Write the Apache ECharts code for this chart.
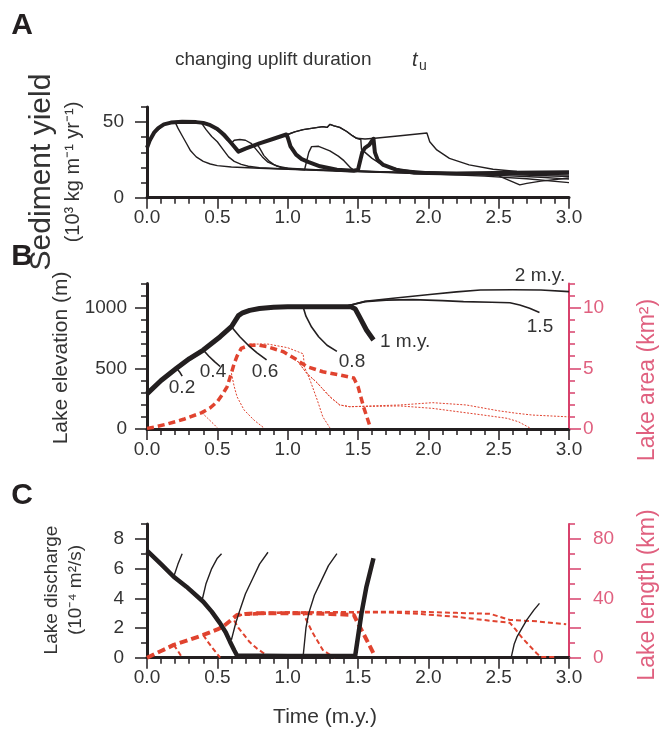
<!DOCTYPE html>
<html><head><meta charset="utf-8">
<script src="https://cdn.jsdelivr.net/npm/echarts@6/dist/echarts.min.js"></script>
<style>html,body{margin:0;padding:0;background:#fff}#c{width:662px;height:735px}</style>
</head><body><div id="c"></div>
<script>
// ---------- tick labels ----------
const timeTicks = [0, 0.5, 1.0, 1.5, 2.0, 2.5, 3.0];
const sedLabels = [0, 50];
const elevLabels = [0, 500, 1000];
const areaLabels = [0, 5, 10];
const dischLabels = [0, 2, 4, 6, 8];
const dischMajor = [0, 2, 4, 6, 8];
const lenLabels = [0, 40, 80];
const lenMajor = [0, 20, 40, 60, 80];

// ---------- Panel A: sediment yield (10^3 kg m^-1 yr^-1) vs time ----------
const sedTu02 = [[0,33],[0.02,38],[0.05,43],[0.08,46],[0.12,48.5],[0.17,49.5],[0.2,50],[0.22,46],[0.25,41],[0.28,36],[0.31,31],[0.35,27],[0.4,24],[0.45,22.3],[0.5,21.2],[0.6,20.3],[0.8,19.5],[1.0,18.8],[1.3,17.8],[1.6,17],[2.0,15.8],[2.4,14.3],[2.7,12.5],[3.0,10]];
const sedTu04 = [[0,33],[0.05,43],[0.12,48.5],[0.2,50],[0.3,50],[0.36,49.8],[0.39,49],[0.42,45],[0.46,40.5],[0.5,37],[0.54,32],[0.58,27],[0.62,24],[0.67,22],[0.72,20.8],[0.8,19.8],[1.0,19],[1.3,18],[1.6,17.2],[2.0,16],[2.5,14.8],[2.8,13.5],[3.0,12.3]];
const sedTu06 = [[0,33],[0.05,43],[0.12,48.5],[0.2,50],[0.3,50],[0.42,49.5],[0.47,47],[0.52,43],[0.57,38],[0.6,36],[0.62,38],[0.66,38.5],[0.7,38],[0.74,36],[0.78,31.5],[0.82,27],[0.86,23.5],[0.92,21],[1.0,19.5],[1.2,18.5],[1.5,17.5],[2.0,16.2],[2.5,15.5],[3.0,14]];
const sedTu08 = [[0,33],[0.05,43],[0.12,48.5],[0.2,50],[0.3,50],[0.4,49.5],[0.45,48],[0.5,45],[0.55,41],[0.6,35.5],[0.65,30.5],[0.7,32.5],[0.75,34.5],[0.78,35.5],[0.8,33],[0.83,28],[0.87,24],[0.9,22],[0.95,20],[1.05,19],[1.12,18.5],[1.15,30],[1.17,33.8],[1.22,34],[1.3,31],[1.36,27.5],[1.4,24.5],[1.45,19.5],[1.48,17.8],[1.7,17],[2.0,16.5],[2.5,16],[3.0,15]];
const sedTu10 = [[0,33],[0.02,38],[0.05,43],[0.08,46],[0.12,48.5],[0.17,49.7],[0.25,50.3],[0.35,50],[0.4,49.5],[0.45,48],[0.5,45.5],[0.55,41.5],[0.6,36],[0.65,30.5],[0.7,32.5],[0.8,36],[0.9,39],[0.99,41.8],[1.0,40],[1.02,34],[1.06,28.5],[1.1,25.5],[1.15,23.5],[1.23,20.8],[1.35,18.5],[1.47,17.8],[1.5,18.5],[1.53,30],[1.55,33],[1.58,35],[1.61,39],[1.62,30],[1.64,25],[1.68,21.7],[1.77,18.5],[1.9,16.5],[2.2,16],[2.6,16.5],[3.0,16.8]];
const sedTu15 = [[0,33],[0.05,43],[0.12,48.5],[0.2,50],[0.35,50],[0.45,48],[0.55,41.5],[0.65,30.5],[0.8,36],[0.9,39],[1.0,41.8],[1.05,43.5],[1.11,45],[1.18,46],[1.25,47],[1.28,46.5],[1.3,48.5],[1.33,47.5],[1.37,46.5],[1.42,43.8],[1.46,41],[1.49,39.3],[1.52,38.5],[1.525,32],[1.55,30],[1.6,26],[1.65,23],[1.7,21],[1.8,18.5],[2.0,17],[2.3,15.8],[2.5,14.5],[2.6,10.5],[2.65,8.5],[2.7,9.5],[2.8,11],[3.0,13]];
const sedTu20 = [[0,33],[0.05,43],[0.12,48.5],[0.2,50],[0.35,50],[0.45,48],[0.55,41.5],[0.65,30.5],[0.8,36],[0.9,39],[1.0,41.8],[1.05,43.5],[1.11,45],[1.18,46],[1.25,47],[1.28,46.5],[1.3,48.5],[1.33,47.5],[1.37,46.5],[1.42,43.8],[1.46,41],[1.49,39.3],[1.55,38.8],[1.62,39.3],[1.8,41],[1.99,42.8],[2.01,37],[2.06,31.6],[2.15,26],[2.29,21.7],[2.46,18.8],[2.63,17.3],[2.8,16.8],[3.0,16.5]];

// ---------- Panel B: lake elevation (m) ----------
const elevTu10 = [[0,290],[0.1,400],[0.21,500],[0.3,578],[0.4,651],[0.52,761],[0.6,843],[0.65,935],[0.68,958],[0.73,978],[0.8,993],[0.9,1003],[1.0,1007],[1.2,1008],[1.45,1008],[1.48,990],[1.51,926],[1.56,816],[1.61,734]];
const elevTu02 = [[0.21,500],[0.235,465],[0.25,435]];
const elevTu04 = [[0.4,651],[0.44,600],[0.48,555],[0.52,515]];
const elevTu06 = [[0.6,843],[0.66,760],[0.72,690],[0.78,630],[0.85,570]];
const elevTu08 = [[1.11,1005],[1.13,930],[1.17,840],[1.22,760],[1.28,690],[1.35,640]];
const elevTu15 = [[1.4,1008],[1.55,1050],[1.7,1062],[1.89,1066],[2.1,1058],[2.25,1050],[2.45,1045],[2.58,1040],[2.65,1022],[2.72,995],[2.79,960]];
const elevTu20 = [[1.4,1008],[1.55,1052],[1.75,1078],[2.01,1108],[2.2,1130],[2.37,1146],[2.6,1148],[2.8,1146],[3.0,1132]];

// ---------- Panel B: lake area (km^2) ----------
const areaTu10 = [[0,0.05],[0.05,0.15],[0.14,0.4],[0.26,0.8],[0.39,1.35],[0.45,1.75],[0.5,2.25],[0.54,2.9],[0.57,3.5],[0.6,4.6],[0.62,5.4],[0.64,6.0],[0.67,6.65],[0.73,6.9],[0.8,6.9],[0.85,6.8],[0.97,6.37],[1.065,5.7],[1.135,5.15],[1.25,4.72],[1.37,4.45],[1.47,4.2],[1.5,3.5],[1.54,1.8],[1.59,0.05]];
const areaTu04 = [[0.39,1.35],[0.43,0.9],[0.47,0.45],[0.5,0.1]];
const areaTu06 = [[0.6,4.6],[0.62,3.5],[0.64,2.66],[0.69,1.57],[0.76,0.74],[0.83,0.1]];
const areaTu08 = [[0.73,7.0],[0.86,7.0],[1.0,6.7],[1.11,6.2],[1.12,5.1],[1.16,4.0],[1.21,2.4],[1.25,1.0],[1.3,0.1]];
const areaTu15 = [[1.07,5.6],[1.135,4.6],[1.21,3.8],[1.3,2.66],[1.37,1.98],[1.44,1.84],[1.8,1.9],[2.03,1.7],[2.39,1.15],[2.56,0.88],[2.64,0.6],[2.72,0.1]];
const areaTu20 = [[1.07,5.6],[1.135,4.6],[1.21,3.8],[1.3,2.66],[1.37,1.98],[1.44,1.84],[1.8,1.98],[2.03,2.17],[2.27,1.98],[2.5,1.5],[2.63,1.29],[2.74,1.15],[3.0,1.0]];

// ---------- Panel C: lake discharge (10^-4 m^2/s) ----------
const dischTu10 = [[0,7.2],[0.1,6.3],[0.19,5.45],[0.28,4.78],[0.4,3.77],[0.46,3.1],[0.52,2.31],[0.56,1.7],[0.59,1.08],[0.62,0.5],[0.64,0.15],[1.0,0.12],[1.48,0.12],[1.525,3.0],[1.56,4.78],[1.61,6.7]];
const dischTu02 = [[0.19,5.45],[0.22,6.3],[0.25,7.0]];
const dischTu04 = [[0.39,3.8],[0.42,5.0],[0.46,6.0],[0.5,6.7],[0.53,7.0]];
const dischTu06 = [[0.6,1.2],[0.63,2.3],[0.66,3.2],[0.7,4.3],[0.75,5.3],[0.8,6.3],[0.86,7.1]];
const dischTu08 = [[1.11,0.1],[1.13,2.0],[1.15,3.0],[1.19,4.2],[1.23,5.0],[1.29,6.2],[1.35,7.0]];
const dischTu15 = [[2.59,0.05],[2.61,0.9],[2.63,1.4],[2.7,2.54],[2.75,3.2],[2.79,3.66]];

// ---------- Panel C: lake length (km) ----------
const lenTu10 = [[0,0],[0.1,4.5],[0.19,8.6],[0.3,12],[0.4,15.3],[0.5,19],[0.54,20.9],[0.6,25.5],[0.64,28.8],[0.7,29.5],[0.8,30],[1.0,30],[1.14,30],[1.3,29.5],[1.47,28.8],[1.5,23.1],[1.55,14.1],[1.61,3]];
const lenTu02 = [[0.19,8.6],[0.22,4.5],[0.25,0]];
const lenTu04 = [[0.4,15.3],[0.43,11],[0.47,6],[0.52,0]];
const lenTu06 = [[0.62,25],[0.65,20],[0.69,15.3],[0.73,10.5],[0.78,6.3],[0.83,3],[0.89,0]];
const lenTu08 = [[0.64,28.5],[0.8,30.5],[1.0,30.5],[1.11,30],[1.14,24],[1.18,16.4],[1.22,10],[1.25,5.2],[1.3,2],[1.34,0]];
const lenTu15 = [[0.64,28.5],[1.0,30.5],[1.45,30.5],[1.7,30.5],[1.92,29.6],[2.2,27.5],[2.39,25.4],[2.58,23.5],[2.62,19],[2.67,13],[2.72,8],[2.77,3],[2.8,0.5],[2.9,0.5]];
const lenTu20 = [[0.64,28.5],[1.0,30.5],[1.45,30.8],[1.7,31],[1.92,31],[2.2,30.2],[2.44,29.5],[2.58,25.4],[2.77,24.5],[2.98,22.5]];

// ---------- styles ----------
const BLACK = '#231f20', RED = '#e0432f', PINK = '#d8426c', PINKTXT = '#e0607f', TXT = '#333';
const FONT = "'Liberation Sans', Arial, sans-serif";

const grids = [
  {left:147, right:93, top:107, height:90.7},
  {left:147, right:93, top:283.4, height:145.6},
  {left:147, right:93, top:524, height:133.7}
];

function xAx(g){
  return {type:'value', gridIndex:g, min:0, max:3, interval:0.5,
    axisLine:{show:true, onZero:false, lineStyle:{color:BLACK, width:3}},
    axisTick:{show:true, length:11, lineStyle:{color:BLACK, width:1.5}},
    minorTick:{show:true, splitNumber:5, length:6, lineStyle:{color:BLACK, width:1.5}},
    axisLabel:{customValues:timeTicks, formatter:v=>Number(v).toFixed(1), fontSize:19, color:TXT, fontFamily:FONT, margin:11},
    splitLine:{show:false}, minorSplitLine:{show:false}};
}
function yMajor(g, pos, max, step, ticks, labels, color, lblColor, lw, margin){
  return {type:'value', gridIndex:g, position:pos, min:0, max:max, interval:step,
    axisLine:{show:true, onZero:false, lineStyle:{color:color, width:lw}},
    axisTick:{show:true, customValues:ticks, length:12, lineStyle:{color:color, width:1.5}},
    axisLabel:{customValues:labels, formatter:v=>String(v), fontSize:19, color:lblColor, fontFamily:FONT, margin:margin},
    splitLine:{show:false}};
}
function yMinor(g, pos, max, step, color){
  return {type:'value', gridIndex:g, position:pos, min:0, max:max, interval:step,
    axisLine:{show:false, onZero:false},
    axisTick:{show:true, length:6, lineStyle:{color:color, width:1.5}},
    axisLabel:{show:false}, splitLine:{show:false}};
}

const yAxes = [
  yMajor(0,'left',60,10,[0,50],sedLabels,BLACK,TXT,3,23),      //0
  yMinor(0,'left',60,10,BLACK),                                 //1
  yMajor(1,'left',1200,100,[0,500,1000],elevLabels,BLACK,TXT,3,20), //2
  yMinor(1,'left',1200,100,BLACK),                              //3
  yMajor(1,'right',12,1,[0,5,10],areaLabels,PINK,PINKTXT,2,14), //4
  yMinor(1,'right',12,1,PINK),                                  //5
  yMajor(2,'left',9,1,dischMajor,dischLabels,BLACK,TXT,3,23),   //6
  yMinor(2,'left',9,1,BLACK),                                   //7
  yMajor(2,'right',90,10,lenMajor,lenLabels,PINK,PINKTXT,2,24), //8
  yMinor(2,'right',90,10,PINK)                                  //9
];

function ln(data, xi, yi, color, width, type, z){
  return {type:'line', data:data, xAxisIndex:xi, yAxisIndex:yi, showSymbol:false, symbol:'none',
    lineStyle:{color:color, width:width, type:type||'solid', cap:'butt', join:'round'}, z:z||2, silent:true, clip:false};
}

const series = [
  // Panel A
  ln(sedTu02,0,0,BLACK,1.4), ln(sedTu04,0,0,BLACK,1.4), ln(sedTu06,0,0,BLACK,1.4),
  ln(sedTu08,0,0,BLACK,1.4), ln(sedTu15,0,0,BLACK,1.4), ln(sedTu20,0,0,BLACK,1.4),
  ln(sedTu10,0,0,BLACK,4,'solid',3),
  // Panel B red
  ln(areaTu04,1,4,RED,1,[2,1.5]), ln(areaTu06,1,4,RED,1,[2,1.5]), ln(areaTu08,1,4,RED,1,[2,1.5]),
  ln(areaTu15,1,4,RED,1,[2,1.5]), ln(areaTu20,1,4,RED,1,[2,1.5]),
  ln(areaTu10,1,4,RED,3.5,[7,4]),
  // Panel B black
  ln(elevTu02,1,2,BLACK,1.6), ln(elevTu04,1,2,BLACK,1.6), ln(elevTu06,1,2,BLACK,1.6),
  ln(elevTu08,1,2,BLACK,1.6), ln(elevTu15,1,2,BLACK,1.6), ln(elevTu20,1,2,BLACK,1.6),
  ln(elevTu10,1,2,BLACK,5,'solid',3),
  // Panel C red
  ln(lenTu02,2,8,RED,2,[5,3]), ln(lenTu04,2,8,RED,2,[5,3]), ln(lenTu06,2,8,RED,2,[5,3]),
  ln(lenTu08,2,8,RED,2,[5,3]), ln(lenTu15,2,8,RED,2,[5,3]), ln(lenTu20,2,8,RED,2,[5,3]),
  ln(lenTu10,2,8,RED,4,[8,4]),
  // Panel C black
  ln(dischTu02,2,6,BLACK,1.4), ln(dischTu04,2,6,BLACK,1.4), ln(dischTu06,2,6,BLACK,1.4),
  ln(dischTu08,2,6,BLACK,1.4), ln(dischTu15,2,6,BLACK,1.4),
  ln(dischTu10,2,6,BLACK,4.5,'solid',3)
];

function txt(x, y, text, size, opts){
  opts = opts || {};
  return {type:'text', x:x, y:y, rotation:opts.rot||0, z:10,
    style:{text:text, fontSize:size, fontFamily:FONT, fill:opts.color||TXT, fontWeight:opts.bold?'bold':'normal',
      fontStyle:opts.italic?'italic':'normal', align:opts.align||'center', verticalAlign:'middle'}};
}
const R = Math.PI/2;
const graphics = [
  txt(22,26,'A',30,{bold:true, color:'#231f20'}),
  txt(22,257,'B',30,{bold:true, color:'#231f20'}),
  txt(22,496,'C',30,{bold:true, color:'#231f20'}),
  txt(175,60,'changing uplift duration',19,{align:'left'}),
  txt(412,60,'t',20,{align:'left', italic:true}),
  txt(419,66,'u',14,{align:'left'}),
  txt(42,172,'Sediment yield',30,{rot:R}),
  txt(73,172,'(10³ kg m⁻¹ yr⁻¹)',20,{rot:R}),
  txt(61,358,'Lake elevation (m)',21,{rot:R}),
  txt(648,380,'Lake area (km²)',23,{rot:R, color:PINKTXT}),
  txt(52,590,'Lake discharge',19,{rot:R}),
  txt(76,590,'(10⁻⁴ m²/s)',19,{rot:R}),
  txt(648,595,'Lake length (km)',23,{rot:R, color:PINKTXT}),
  txt(325,717,'Time (m.y.)',21),
  txt(182,388,'0.2',19), txt(213,372,'0.4',19), txt(265,372,'0.6',19), txt(352,362,'0.8',19),
  txt(380,342,'1 m.y.',19,{align:'left'}), txt(540,327,'1.5',19), txt(540,276,'2 m.y.',19)
];

const chart = echarts.init(document.getElementById('c'), null, {renderer:'canvas'});
chart.setOption({
  animation:false, backgroundColor:'#fff',
  grid:grids, xAxis:[xAx(0),xAx(1),xAx(2)], yAxis:yAxes, series:series, graphic:graphics
});
</script></body></html>
